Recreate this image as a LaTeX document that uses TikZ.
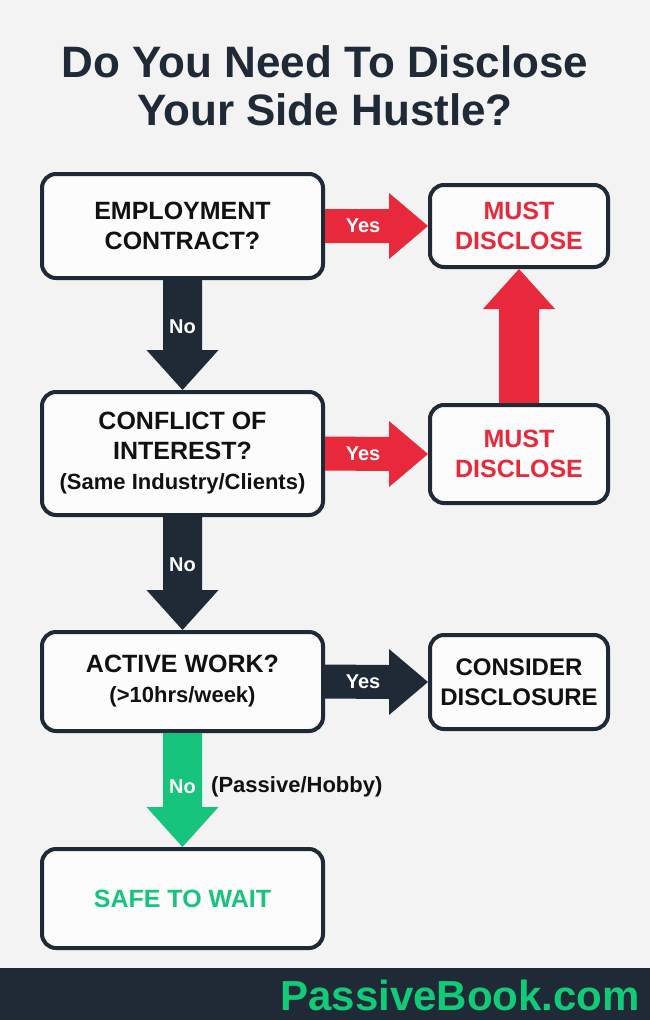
\documentclass[tikz,border=0pt]{standalone}
\usepackage{fontspec}
\setmainfont{Liberation Sans}
\usetikzlibrary{calc}
\definecolor{bgc}{HTML}{F3F3F3}
\definecolor{navy}{HTML}{1F2A36}
\definecolor{redc}{HTML}{E8293B}
\definecolor{greenc}{HTML}{17C47D}
\definecolor{footgreen}{HTML}{10CC78}
\definecolor{boxfill}{HTML}{FCFCFC}
\definecolor{txt}{HTML}{111111}

\tikzset{
  box/.style={draw=navy, line width=4pt, rounded corners=14pt, fill=boxfill,
    align=center, inner sep=0pt, text=txt, font=\bfseries\fontsize{25}{30}\selectfont},
  leftbox/.style={box, minimum width=281pt},
  rightbox/.style={box, minimum width=178pt},
  lbl/.style={text=white, inner sep=0pt, font=\bfseries\fontsize{20}{20}\selectfont},
  subtxt/.style={font=\bfseries\fontsize{22}{28}\selectfont},
  titletxt/.style={text=navy, inner sep=0pt, font=\bfseries\fontsize{44}{48}\selectfont},
}

% horizontal fat arrow: from node #1 (east) to node #2 (west), colour #3
\newcommand{\myHArrow}[3]{%
  \fill[#3] ($(#1.east)+(0,-17)$) -- ($(#2.west)+(-39,-17)$) -- ($(#2.west)+(-39,-33)$)
    -- (#2.west) -- ($(#2.west)+(-39,33)$) -- ($(#2.west)+(-39,17)$)
    -- ($(#1.east)+(0,17)$) -- cycle;}
% downward fat arrow: from node #1 (south) to node #2 (north), colour #3
\newcommand{\myDArrow}[3]{%
  \fill[#3] ($(#1.south)+(-19.5,0)$) -- ($(#2.north)+(-19.5,-40)$) -- ($(#2.north)+(-36,-40)$)
    -- (#2.north) -- ($(#2.north)+(36,-40)$) -- ($(#2.north)+(19.5,-40)$)
    -- ($(#1.south)+(19.5,0)$) -- cycle;}
% upward fat arrow: from node #1 (north) to node #2 (south), colour #3
\newcommand{\myUArrow}[3]{%
  \fill[#3] ($(#1.north)+(-20,0)$) -- ($(#2.south)+(-20,40)$) -- ($(#2.south)+(-36,40)$)
    -- (#2.south) -- ($(#2.south)+(36,40)$) -- ($(#2.south)+(20,40)$)
    -- ($(#1.north)+(20,0)$) -- cycle;}

\begin{document}
\begin{tikzpicture}[x=1pt,y=-1pt]
\useasboundingbox (0,0) rectangle (650,1020);
\fill[bgc] (0,0) rectangle (650,1020);
\fill[navy] (0,968) rectangle (650,1020);

% title
\node[titletxt, anchor=base] (t1) at (325,77) {Do You Need To Disclose};
\node[titletxt, anchor=base] (t2) at (325,125) {Your Side Hustle?};

% left column
\node[leftbox, minimum height=104pt] (q1) at (182.5,226) {EMPLOYMENT\\CONTRACT?};
\node[leftbox, minimum height=123pt] (q2) at (182.5,453.5) {CONFLICT OF\\INTEREST?\\{\fontsize{22}{28}\selectfont (Same Industry/Clients)}};
\node[leftbox, minimum height=99pt] (q3) at (182.5,681.5) {ACTIVE WORK?\\{\fontsize{22}{28}\selectfont (>10hrs/week)}};
\node[leftbox, minimum height=99pt, text=greenc] (s) at (182.5,898.5) {SAFE TO WAIT};

% right column
\node[rightbox, minimum height=82pt, text=redc] (m1) at (519,226) {MUST\\DISCLOSE};
\node[rightbox, minimum height=98pt, text=redc] (m2) at (519,454) {MUST\\DISCLOSE};
\node[rightbox, minimum height=94pt, font=\bfseries\fontsize{24}{30}\selectfont] (c3) at (519,682) {CONSIDER\\DISCLOSURE};

% connectors
\myHArrow{q1}{m1}{redc}
\myHArrow{q2}{m2}{redc}
\myHArrow{q3}{c3}{navy}
\myDArrow{q1}{q2}{navy}
\myDArrow{q2}{q3}{navy}
\myDArrow{q3}{s}{greenc}
\myUArrow{m2}{m1}{redc}

% connector labels
\node[lbl] (y1) at ($(q1.east)+(38,0)$) {Yes};
\node[lbl] (y2) at ($(q2.east)+(38,0)$) {Yes};
\node[lbl] (y3) at ($(q3.east)+(38,0)$) {Yes};
\node[lbl] (n1) at ($(q1.south)+(0,47)$) {No};
\node[lbl] (n2) at ($(q2.south)+(0,48)$) {No};
\node[lbl] (n3) at ($(q3.south)+(0,54)$) {No};
\node[anchor=west, inner sep=0pt, text=txt, subtxt] (ph) at ($(n3.east)+(15,0)$) {(Passive/Hobby)};

% footer
\node[anchor=base east, inner sep=0pt, text=footgreen, font=\bfseries\fontsize{42}{42}\selectfont] (ft) at (640,1010) {PassiveBook.com};
\end{tikzpicture}
\end{document}
